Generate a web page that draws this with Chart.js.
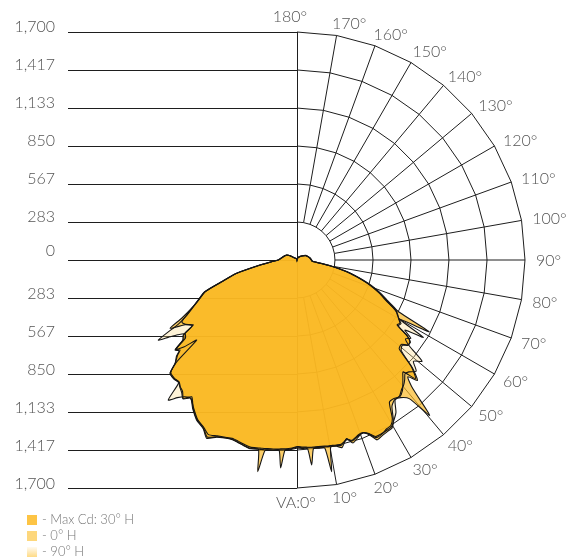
<!DOCTYPE html>
<html><head><meta charset="utf-8">
<script src="https://cdn.jsdelivr.net/npm/chart.js@4.4.1/dist/chart.umd.min.js"></script>
<style>html,body{margin:0;padding:0;background:#fff;overflow:hidden}canvas{display:block}</style>
</head><body>
<canvas id="c" width="566" height="558"></canvas>
<script>
// ---- data (candela, angles in degrees from nadir) ----
const radialTicks = [0, 283, 567, 850, 1133, 1417, 1700];
const angleTicks = [0, 10, 20, 30, 40, 50, 60, 70, 80, 90, 100, 110, 120, 130, 140, 150, 160, 170, 180];
const seriesLabels = ['- Max Cd: 30° H', '- 0° H', '- 90° H'];

// right half of the plot: angle from nadir towards the right side
const anglesRight = [0, 1.5, 3.2, 4.1, 5, 6.5, 8.4, 9.3, 10.2, 12, 13.5, 15.5, 17, 19.5, 21, 22.5, 24, 26, 28, 29.5,
  31, 33, 35, 37, 39, 40.5, 42, 43.5, 45, 47, 49, 51, 52.5, 54, 55.5, 57, 58.5, 60, 61.5, 63,
  64.5, 66, 68, 70, 72, 74, 76, 78, 80, 82, 84, 86, 90, 100, 110, 118, 125, 135, 150, 165, 180];
// left half of the plot: angle from nadir towards the left side
const anglesLeft = [0, 2, 3.6, 4.5, 5.4, 7.2, 9.5, 10.5, 11.5, 14, 16, 18, 20, 22, 24.4, 26.9, 29, 32, 35, 37.6,
  39.4, 41, 42.6, 44, 46, 48.3, 49.7, 51.4, 52.4, 53.6, 55, 56.6, 57.9, 59, 60, 61.7, 63.2, 65.8, 67.9, 71,
  73.9, 77.6, 82.3, 86, 90, 100, 110, 116, 122, 130, 150, 170, 180];

const cdMaxRight = [1395, 1400, 1403, 1404, 1405, 1406, 1408, 1410, 1411, 1415, 1420, 1385, 1410, 1385, 1380, 1405, 1450, 1445, 1425, 1420,
  1380, 1265, 1260, 1275, 1250, 1215, 1180, 1150, 1250, 1165, 1010, 1000, 1040, 1045, 990, 890, 900, 875, 855, 820,
  770, 725, 668, 610, 545, 478, 410, 330, 255, 180, 128, 112, 108, 96, 82, 72, 55, 40, 25, 12, 0];
const cdMaxLeft = [1395, 1410, 1418, 1420, 1422, 1428, 1435, 1437, 1440, 1446, 1438, 1428, 1420, 1430, 1447, 1480, 1436, 1405, 1350, 1287,
  1335, 1300, 1285, 1265, 1275, 1265, 1190, 1140, 1100, 1125, 1030, 1010, 913, 935, 960, 975, 930, 848, 794, 726,
  584, 460, 278, 190, 140, 112, 95, 85, 60, 25, 12, 5, 0];

const cd0Right = [1402, 1405, 1410, 1532, 1410, 1412, 1417, 1600, 1416, 1420, 1438, 1382, 1427, 1390, 1382, 1410, 1468, 1455, 1445, 1440,
  1395, 1300, 1270, 1285, 1330, 1523, 1290, 1200, 1270, 1175, 1030, 1010, 1045, 1040, 1000, 900, 910, 880, 1122, 850,
  790, 735, 680, 620, 555, 485, 415, 335, 258, 185, 130, 115, 110, 98, 84, 74, 57, 41, 26, 12, 0];
const cd0Left = [1402, 1415, 1420, 1555, 1422, 1430, 1438, 1605, 1440, 1450, 1440, 1430, 1424, 1432, 1450, 1490, 1440, 1410, 1355, 1300,
  1340, 1310, 1290, 1270, 1277, 1268, 1192, 1150, 1110, 1130, 1040, 1016, 920, 940, 965, 1075, 963, 850, 796, 728,
  586, 462, 280, 192, 142, 114, 96, 86, 61, 26, 12, 5, 0];

const cd90Right = [1390, 1395, 1398, 1400, 1400, 1400, 1403, 1405, 1406, 1410, 1412, 1390, 1405, 1380, 1378, 1400, 1440, 1440, 1435, 1430,
  1400, 1355, 1275, 1270, 1240, 1225, 1200, 1170, 1180, 1215, 1150, 1200, 1060, 1000, 1030, 960, 1104, 880, 850, 830,
  765, 715, 665, 605, 540, 470, 405, 325, 250, 178, 125, 110, 105, 94, 80, 70, 53, 38, 24, 11, 0];
const cd90Left = [1390, 1405, 1410, 1412, 1415, 1420, 1425, 1428, 1430, 1438, 1430, 1420, 1415, 1425, 1440, 1460, 1430, 1400, 1345, 1300,
  1320, 1360, 1418, 1267, 1270, 1260, 1180, 957, 1060, 1120, 1016, 1000, 1050, 1120, 1194, 1000, 925, 845, 790, 720,
  580, 455, 275, 188, 138, 110, 93, 84, 58, 24, 11, 5, 0];

// ---- build closed polar outlines ----
const RAD = Math.PI / 180;
function outline(right, left) {
  const pts = [];
  anglesRight.forEach((a, i) => pts.push({x: right[i] * Math.sin(a * RAD), y: -right[i] * Math.cos(a * RAD)}));
  for (let j = anglesLeft.length - 1; j >= 0; j--) {
    const a = anglesLeft[j];
    pts.push({x: -left[j] * Math.sin(a * RAD), y: -left[j] * Math.cos(a * RAD)});
  }
  return pts;
}

const FONT = '"Lato", "Century Gothic", "Noto Sans", sans-serif';
const legendColors = ['#fdc445', '#fdd77c', null];
const maxV = radialTicks[radialTicks.length - 1];

const gridPlugin = {
  id: 'photometricGrid',
  beforeDraw(chart) {
    const {ctx, scales: {x, y}} = chart;
    const P = (deg, v) => [x.getPixelForValue(v * Math.sin(deg * RAD)), y.getPixelForValue(-v * Math.cos(deg * RAD))];
    const cx = x.getPixelForValue(0);
    ctx.save();
    ctx.strokeStyle = '#1e1e1e';
    ctx.lineWidth = 1;
    radialTicks.slice(1).forEach(v => {
      ctx.beginPath();
      angleTicks.forEach((a, i) => { const [px, py] = P(a, v); i ? ctx.lineTo(px, py) : ctx.moveTo(px, py); });
      ctx.stroke();
    });
    angleTicks.forEach(a => {
      if (a === 0 || a === 180) return;
      const [x0, y0] = P(a, radialTicks[1]);
      const [x1, y1] = P(a, maxV);
      ctx.beginPath(); ctx.moveTo(x0, y0); ctx.lineTo(x1, y1); ctx.stroke();
    });
    const vx = Math.round(cx) + 0.5;
    ctx.beginPath(); ctx.moveTo(vx, y.getPixelForValue(maxV)); ctx.lineTo(vx, y.getPixelForValue(-maxV)); ctx.stroke();
    const xl = x.getPixelForValue(-maxV) - 1;
    const levels = new Set();
    radialTicks.forEach(v => { levels.add(v); levels.add(-v); });
    levels.forEach(s => {
      const py = Math.round(y.getPixelForValue(s)) + 0.5;
      ctx.beginPath(); ctx.moveTo(xl, py); ctx.lineTo(cx, py); ctx.stroke();
    });
    ctx.restore();
  },
  afterDraw(chart) {
    const {ctx, scales: {x, y}} = chart;
    const P = (deg, v) => [x.getPixelForValue(v * Math.sin(deg * RAD)), y.getPixelForValue(-v * Math.cos(deg * RAD))];
    const xl = x.getPixelForValue(-maxV) - 1;
    ctx.save();
    ctx.fillStyle = '#555';
    ctx.font = '300 16px ' + FONT;
    ctx.textBaseline = 'middle';
    // left value labels
    ctx.textAlign = 'right';
    radialTicks.forEach(v => {
      const txt = v.toLocaleString('en-US');
      if (v === 0) { ctx.fillText(txt, xl - 13, y.getPixelForValue(0) - 9); return; }
      ctx.fillText(txt, xl - 13, y.getPixelForValue(v) - 5);
      ctx.fillText(txt, xl - 13, y.getPixelForValue(-v) - 4);
    });
    // angle labels
    angleTicks.forEach(a => {
      const [rx, ry] = P(a, maxV);
      const s = Math.sin(a * RAD), c = Math.cos(a * RAD);
      if (a === 0) { ctx.textAlign = 'center'; ctx.fillText('VA:0°', rx - 1, ry + 15); return; }
      if (a === 180) { ctx.textAlign = 'center'; ctx.fillText('180°', rx - 7, ry - 15); return; }
      ctx.textAlign = 'left';
      ctx.fillText(a + '°', rx + 19 * s - 8, ry + 13 * c + 1);
    });
    // legend
    ctx.font = '300 13px ' + FONT;
    ctx.textAlign = 'left';
    ctx.fillStyle = '#777';
    chart.data.datasets.forEach((ds, i) => {
      const ly = 520 + i * 16;
      let col = legendColors[i];
      if (!col) {
        col = ctx.createLinearGradient(0, ly - 5, 0, ly + 5);
        col.addColorStop(0, '#fffaf0');
        col.addColorStop(1, '#fedb86');
      }
      ctx.save(); ctx.fillStyle = col; ctx.fillRect(27, ly - 5, 10, 10); ctx.restore();
      ctx.fillText(ds.label, 42, ly);
    });
    ctx.restore();
  }
};

const mk = (label, pts, bg) => ({
  label, data: pts, showLine: true, fill: 'shape', backgroundColor: bg,
  borderColor: '#161616', borderWidth: 1.1, tension: 0.2, pointRadius: 0, pointHoverRadius: 0
});

new Chart(document.getElementById('c'), {
  type: 'scatter',
  data: {
    datasets: [
      mk(seriesLabels[0], outline(cdMaxRight, cdMaxLeft), 'rgba(250,182,30,0.8)'),
      mk(seriesLabels[1], outline(cd0Right, cd0Left), 'rgba(250,185,40,0.7)'),
      mk(seriesLabels[2], outline(cd90Right, cd90Left), 'rgba(253,220,140,0.35)')
    ]
  },
  options: {
    responsive: false, devicePixelRatio: 1, animation: false, events: [],
    layout: {padding: {left: 69, right: 41, top: 32, bottom: 70}},
    scales: {
      x: {type: 'linear', min: -maxV, max: maxV, display: false},
      y: {type: 'linear', min: -maxV, max: maxV, display: false}
    },
    plugins: {legend: {display: false}, tooltip: {enabled: false}, filler: {drawTime: 'beforeDatasetsDraw'}}
  },
  plugins: [gridPlugin]
});
</script>
</body></html>
